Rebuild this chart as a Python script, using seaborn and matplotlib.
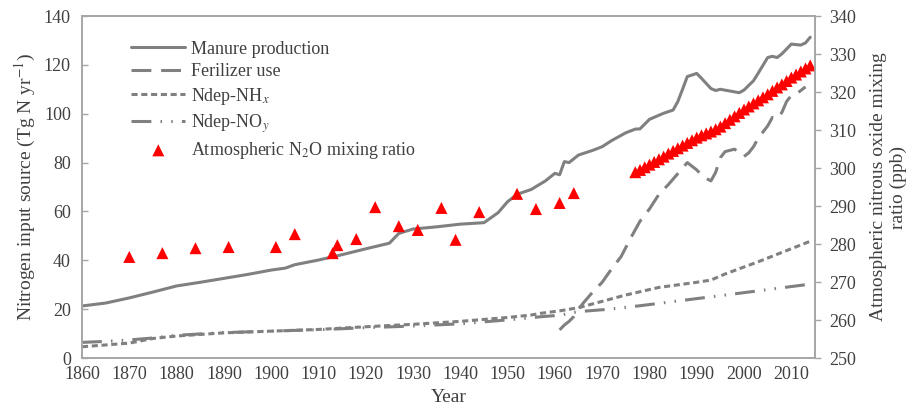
"""Nitrogen input sources vs atmospheric N2O (seaborn)."""

import matplotlib
matplotlib.use("Agg")
import matplotlib.pyplot as plt
import pandas as pd
import seaborn as sns

# --- data ---
manure_years = [1860, 1865, 1870, 1875, 1880, 1885, 1890, 1895, 1900, 1903, 1905,
                1910, 1915, 1920, 1925, 1927, 1930, 1935, 1940, 1945, 1948, 1950,
                1952, 1955, 1958, 1960, 1961, 1962, 1963, 1965, 1968, 1970, 1972,
                1975, 1977, 1978, 1980, 1983, 1985, 1986, 1987, 1988, 1990, 1991,
                1993, 1994, 1995, 1997, 1999, 2000, 2002, 2003, 2005, 2006, 2007,
                2008, 2010, 2012, 2013, 2014]
manure = [21.3, 22.5, 24.6, 27.0, 29.5, 31.0, 32.6, 34.2, 36.0, 36.8, 38.2,
          40.1, 42.3, 44.7, 47.0, 51.0, 52.8, 53.7, 54.8, 55.4, 59.5, 64.0,
          67.0, 69.0, 72.5, 75.6, 75.0, 80.4, 80.0, 83.1, 85.0, 86.5, 89.0,
          92.2, 93.7, 93.8, 97.7, 100.2, 101.5, 105.0, 110.0, 115.2, 116.5, 114.5,
          110.3, 109.5, 110.0, 109.3, 108.6, 109.7, 113.5, 116.6, 123.0, 123.5, 123.0,
          124.5, 128.5, 128.1, 129.0, 131.3]

fert_years = [1961, 1962, 1963, 1964, 1965, 1966, 1968, 1970, 1972, 1974, 1976,
              1978, 1980, 1982, 1984, 1986, 1988, 1989, 1990, 1991, 1992, 1993,
              1994, 1995, 1996, 1997, 1998, 1999, 2000, 2001, 2002, 2003, 2004,
              2005, 2006, 2007, 2008, 2009, 2010, 2011, 2012, 2013]
fert = [11.5, 13.5, 15.0, 17.0, 20.0, 22.5, 27.0, 31.0, 36.5, 41.5, 49.0,
        56.0, 61.0, 67.0, 71.0, 75.5, 80.0, 78.5, 77.0, 75.0, 73.5, 72.5,
        76.0, 82.0, 84.5, 85.0, 85.5, 84.0, 82.5, 84.0, 86.5, 90.0, 92.5,
        95.0, 98.5, 98.0, 100.5, 105.0, 107.5, 108.0, 109.5, 111.0]

nhx_years = [1860, 1870, 1875, 1880, 1890, 1900, 1910, 1920, 1930, 1940, 1950,
             1955, 1957, 1961, 1965, 1975, 1982, 1990, 1993, 1996, 2003, 2014]
nhx = [4.6, 6.1, 8.0, 9.0, 10.3, 11.0, 11.7, 12.8, 13.8, 15.0, 16.6,
       17.6, 18.3, 19.3, 20.6, 25.8, 28.9, 31.0, 31.9, 34.4, 39.4, 47.8]

noy_years = [1860, 1865, 1870, 1875, 1880, 1890, 1900, 1910, 1920, 1930, 1940,
             1950, 1955, 1957, 1961, 1965, 1971, 1978, 1992, 2003, 2013]
noy = [6.4, 6.8, 7.4, 8.2, 9.3, 10.4, 11.0, 11.6, 12.4, 13.1, 14.0,
       15.6, 16.5, 16.9, 17.5, 19.0, 19.9, 21.4, 24.8, 27.5, 30.0]

n2o_years = [1870, 1877, 1884, 1891, 1901, 1905, 1913, 1914, 1918, 1922, 1927,
             1931, 1936, 1939, 1944, 1952, 1956, 1961, 1964,
             1977, 1978, 1979, 1980, 1981, 1982, 1983, 1984, 1985, 1986, 1987,
             1988, 1989, 1990, 1991, 1992, 1993, 1994, 1995, 1996, 1997, 1998,
             1999, 2000, 2001, 2002, 2003, 2004, 2005, 2006, 2007, 2008, 2009,
             2010, 2011, 2012, 2013, 2014]
n2o = [276.6, 277.6, 278.9, 279.2, 279.2, 282.6, 277.6, 279.7, 281.3, 289.7, 284.7,
       283.7, 289.5, 281.1, 288.4, 293.2, 289.2, 290.8, 293.4,
       298.9, 299.5, 300.2, 300.9, 301.6, 302.3, 303.0, 303.8, 304.5, 305.2, 305.9,
       306.6, 307.3, 308.0, 308.6, 309.1, 309.6, 310.2, 310.9, 311.8, 312.7, 313.6,
       314.5, 315.4, 316.2, 317.0, 317.8, 318.6, 319.4, 320.3, 321.2, 322.0, 322.9,
       323.8, 324.6, 325.4, 326.2, 327.0]

x_ticks = list(range(1860, 2011, 10))
left_ticks = list(range(0, 141, 20))
right_ticks = list(range(250, 341, 10))

sns.set_theme(style="white")
plt.rcParams["font.family"] = ["Liberation Serif", "DejaVu Serif"]
plt.rcParams["mathtext.fontset"] = "stix"

TEXT = "#404040"
LINE = "#808080"
SPINE = "#a6a6a6"
LW = 2.2

fig, ax = plt.subplots(figsize=(9.12, 4.18), dpi=100)
fig.subplots_adjust(left=0.0899, right=0.8936, top=0.9617, bottom=0.1435)
ax2 = ax.twinx()

sns.lineplot(x=manure_years, y=manure, ax=ax, color=LINE, lw=LW,
             label="Manure production")
sns.lineplot(x=fert_years, y=fert, ax=ax, color=LINE, lw=LW,
             linestyle=(0, (6.5, 3.2)), label="Ferilizer use")
sns.lineplot(x=nhx_years, y=nhx, ax=ax, color=LINE, lw=LW,
             linestyle=(0, (2.0, 1.2)), label="Ndep-NH$_{x}$")
sns.lineplot(x=noy_years, y=noy, ax=ax, color=LINE, lw=LW,
             linestyle=(0, (6.5, 3.0, 0.5, 3.0, 0.5, 3.0)), label="Ndep-NO$_{y}$")
sns.scatterplot(x=n2o_years, y=n2o, ax=ax2, marker="^", s=75, color="red",
                edgecolor="none", label="Atmospheric N$_2$O mixing ratio")

ax.set_xlim(1860, 2015)
ax.set_ylim(0, 140)
ax2.set_ylim(250, 340)
ax.set_xticks(x_ticks)
ax.set_yticks(left_ticks)
ax2.set_yticks(right_ticks)

ax.set_xlabel("Year", fontsize=14, color=TEXT)
ax.set_ylabel("Nitrogen input source (Tg N yr$^{-1}$)", fontsize=14, color=TEXT)
ax2.set_ylabel("Atmospheric nitrous oxide mixing\nratio (ppb)", fontsize=14,
               color=TEXT, multialignment="center", labelpad=10)

ax.tick_params(axis="both", direction="in", length=4, width=1, color=SPINE,
               labelsize=13, labelcolor=TEXT, pad=6)
ax.tick_params(axis="y", pad=8)
ax2.tick_params(axis="y", direction="out", length=4, width=1, color=SPINE,
                labelsize=13, labelcolor=TEXT, pad=6)
ax.tick_params(axis="y", right=False)
for a in (ax, ax2):
    for sp in a.spines.values():
        sp.set_color(SPINE)
        sp.set_linewidth(1.2)
ax.grid(False)
ax2.grid(False)

h1, l1 = ax.get_legend_handles_labels()
h2, l2 = ax2.get_legend_handles_labels()
if ax2.get_legend():
    ax2.get_legend().remove()
leg = ax.legend(h1 + h2, l1 + l2, loc="upper left", bbox_to_anchor=(0.045, 0.975),
                frameon=False, fontsize=13, handlelength=3.0, labelspacing=0.3,
                handletextpad=0.3)
for t in leg.get_texts():
    t.set_color(TEXT)

fig.savefig("out.png", dpi=100)
plt.close(fig)
